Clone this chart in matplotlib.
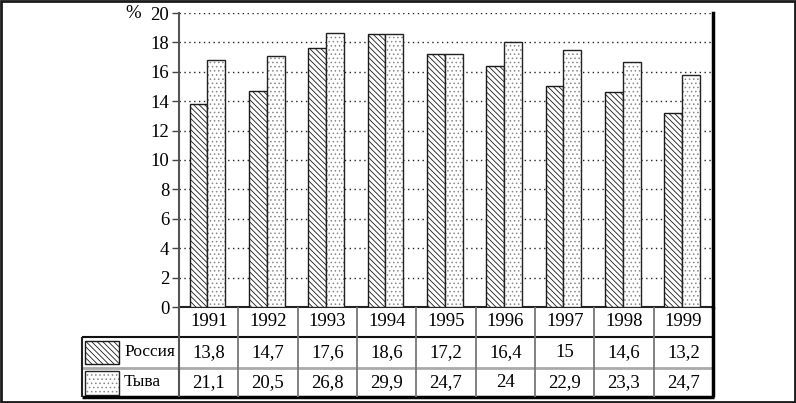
import matplotlib.pyplot as plt
from matplotlib.patches import Rectangle
from matplotlib.transforms import blended_transform_factory

plt.rcParams['font.family'] = ['Liberation Serif', 'DejaVu Serif']
plt.rcParams['hatch.linewidth'] = 0.6

# data
years = ['1991', '1992', '1993', '1994', '1995', '1996', '1997', '1998', '1999']
russia = [13.8, 14.7, 17.6, 18.6, 17.2, 16.4, 15, 14.6, 13.2]
tyva_bars = [16.8, 17.1, 18.65, 18.6, 17.2, 18.05, 17.5, 16.7, 15.8]
russia_txt = ['13,8', '14,7', '17,6', '18,6', '17,2', '16,4', '15', '14,6', '13,2']
tyva_txt = ['21,1', '20,5', '26,8', '29,9', '24,7', '24', '22,9', '23,3', '24,7']

hatch_r = '\\' * 6
hatch_t = '....'

fig = plt.figure(figsize=(7.96, 4.03), dpi=100)
W, H = 796, 403
ax = fig.add_axes([179 / W, 1 - 307 / H, (713 - 179) / W, (307 - 13) / H])

x = list(range(len(years)))
w = 0.3
xr = [i - w / 2 - 0.02 for i in x]
xt = [i + w / 2 - 0.02 for i in x]

ax.bar(xr, russia, width=w, color='white', edgecolor='#1a1a1a', hatch=hatch_r, linewidth=1.0, zorder=3)
ax.bar(xt, tyva_bars, width=w, color='white', edgecolor='#888888', hatch=hatch_t, linewidth=0, zorder=3)
ax.bar(xt, tyva_bars, width=w, color='none', edgecolor='#222222', linewidth=1.0, zorder=4)

ax.set_xlim(-0.5, len(years) - 0.5)
ax.set_ylim(0, 20)
ax.set_yticks(range(0, 21, 2))
ax.set_xticks([])
ax.tick_params(axis='y', labelsize=13.5, length=5, width=1, color='#444444', pad=2)
ax.yaxis.grid(True, linestyle=(0, (1, 2.5)), color='#222222', linewidth=1.0, zorder=1)
ax.spines['top'].set_visible(False)
ax.spines['bottom'].set_visible(False)
ax.spines['left'].set_color('#555555')
ax.spines['left'].set_linewidth(1.5)
ax.spines['right'].set_color('black')
ax.spines['right'].set_linewidth(2.5)

ax.text(-1.275, 1.0, '%', transform=blended_transform_factory(ax.transData, ax.transAxes),
        fontsize=13.5, ha='center', va='center')

# table below the axis
tr = blended_transform_factory(ax.transData, ax.transAxes)
ph = 294.0
r0, r1, r2, r3 = 0, -30 / ph, -61 / ph, -90 / ph
xl = -0.5 - 97 / 59.33
xe = len(years) - 0.5

def hline(y, x0, x1, c, lw):
    ax.plot([x0, x1], [y, y], color=c, lw=lw, transform=tr, clip_on=False, solid_capstyle='butt')

def vline(xx, y0, y1, c, lw):
    ax.plot([xx, xx], [y0, y1], color=c, lw=lw, transform=tr, clip_on=False, solid_capstyle='butt')

hline(r0, -0.5, xe, '#222222', 1.5)
hline(r1, xl, xe, '#111111', 1.5)
hline(r2, xl, xe, '#aaaaaa', 2.0)
hline(r3, xl, xe + 0.015, 'black', 2.5)
vline(xl, r1, r3, '#222222', 1.5)
vline(-0.5, r0, r3, '#555555', 1.5)
for i in range(1, len(years)):
    vline(i - 0.5, r0, r3, '#777777', 1.3)
vline(xe, r0, r3, 'black', 2.5)

for i in x:
    ax.text(i, (r0 + r1) / 2, years[i], transform=tr, fontsize=13.5, ha='center', va='center')
    ax.text(i, (r1 + r2) / 2, russia_txt[i], transform=tr, fontsize=13.5, ha='center', va='center')
    ax.text(i, (r2 + r3) / 2, tyva_txt[i], transform=tr, fontsize=13.5, ha='center', va='center')

# legend swatches
sx0 = -0.5 + (85 - 179) / 59.33
sw = 34 / 59.33
ax.add_patch(Rectangle((sx0, -57 / ph), sw, 23 / ph, transform=tr, clip_on=False,
                       facecolor='white', edgecolor='#1a1a1a', hatch=hatch_r, lw=1.0))
ax.add_patch(Rectangle((sx0, -88 / ph), sw, 24 / ph, transform=tr, clip_on=False,
                       facecolor='white', edgecolor='#888888', hatch=hatch_t, lw=0))
ax.add_patch(Rectangle((sx0, -88 / ph), sw, 24 / ph, transform=tr, clip_on=False,
                       facecolor='none', edgecolor='#222222', lw=1.0))
ax.text(-0.5 + (124 - 179) / 59.33, (r1 + r2) / 2, 'Россия', transform=tr, fontsize=12.5, ha='left', va='center')
ax.text(-0.5 + (124 - 179) / 59.33, (r2 + r3) / 2, 'Тыва', transform=tr, fontsize=12.5, ha='left', va='center')

# outer frame
fig.add_artist(Rectangle((0.0015, 0.003), 0.997, 0.994, transform=fig.transFigure,
                         facecolor='none', edgecolor='#1a1a1a', lw=2))

fig.savefig('out.png', dpi=100)
